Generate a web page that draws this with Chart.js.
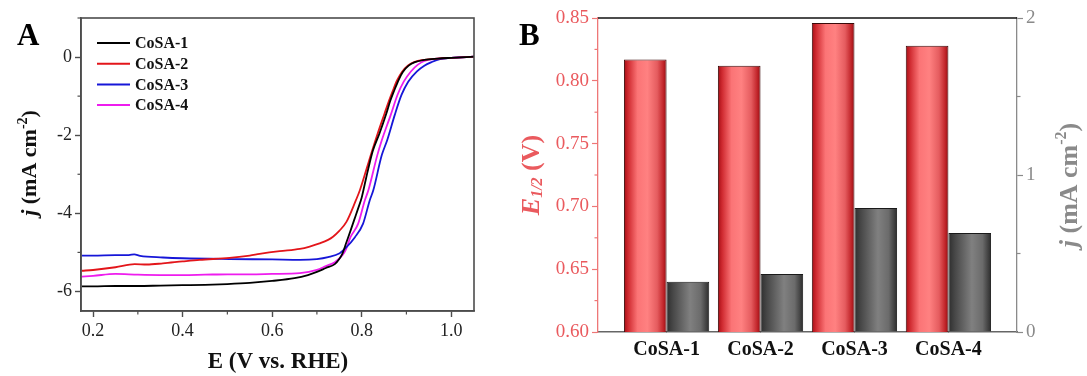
<!DOCTYPE html>
<html>
<head>
<meta charset="utf-8">
<script src="https://cdn.jsdelivr.net/npm/chart.js@4.4.1/dist/chart.umd.min.js"></script>
<style>
  body { margin: 0; background: #fff; width: 1087px; height: 376px; position: relative; overflow: hidden; }
  #wrapA { position: absolute; left: 0; top: 0; width: 500px; height: 376px; }
  #wrapB { position: absolute; left: 500px; top: 0; width: 587px; height: 376px; }
</style>
</head>
<body>
<div id="wrapA"><canvas id="chartA" width="500" height="376"></canvas></div>
<div id="wrapB"><canvas id="chartB" width="587" height="376"></canvas></div>
<script>
const SERIF = "'Liberation Serif', 'Times New Roman', serif";

// ---- panel A: LSV curves ----
const SERIES_NAMES = ["CoSA-1", "CoSA-2", "CoSA-3", "CoSA-4"];
const SERIES_COLORS = ["#000000", "#e3151a", "#1616d8", "#ee1cee"];

const cosa1E = [0.175, 0.2, 0.25, 0.3, 0.35, 0.4, 0.45, 0.5, 0.55, 0.6, 0.65, 0.68, 0.70, 0.72, 0.74, 0.75, 0.757, 0.766, 0.775, 0.783, 0.792, 0.800, 0.807, 0.815, 0.825, 0.840, 0.855, 0.864, 0.873, 0.882, 0.892, 0.905, 0.919, 0.94, 0.97, 1.0, 1.051];
const cosa1J = [-5.87, -5.87, -5.86, -5.86, -5.85, -5.84, -5.83, -5.81, -5.78, -5.73, -5.66, -5.58, -5.50, -5.40, -5.30, -5.17, -5.03, -4.74, -4.45, -4.18, -3.88, -3.60, -3.25, -2.85, -2.40, -1.95, -1.45, -1.12, -0.85, -0.60, -0.38, -0.22, -0.13, -0.07, -0.04, -0.02, 0.01];

const cosa2E = [0.175, 0.2, 0.25, 0.293, 0.32, 0.356, 0.4, 0.438, 0.505, 0.55, 0.572, 0.617, 0.662, 0.684, 0.706, 0.725, 0.736, 0.75, 0.766, 0.787, 0.796, 0.81, 0.822, 0.836, 0.851, 0.861, 0.870, 0.879, 0.89, 0.903, 0.917, 0.94, 0.97, 1.0, 1.051];
const cosa2J = [-5.47, -5.45, -5.38, -5.30, -5.31, -5.28, -5.23, -5.19, -5.14, -5.08, -5.04, -4.97, -4.91, -4.85, -4.77, -4.68, -4.60, -4.45, -4.22, -3.67, -3.41, -2.90, -2.45, -1.95, -1.45, -1.12, -0.85, -0.60, -0.38, -0.22, -0.13, -0.07, -0.04, -0.02, 0.01];

const cosa3E = [0.175, 0.2, 0.25, 0.28, 0.292, 0.305, 0.356, 0.4, 0.505, 0.6, 0.662, 0.70, 0.725, 0.751, 0.765, 0.785, 0.803, 0.818, 0.826, 0.845, 0.857, 0.874, 0.889, 0.904, 0.923, 0.94, 0.956, 0.975, 1.0, 1.051];
const cosa3J = [-5.08, -5.08, -5.07, -5.07, -5.05, -5.09, -5.13, -5.15, -5.17, -5.18, -5.19, -5.17, -5.12, -5.02, -4.88, -4.61, -4.27, -3.67, -3.41, -2.51, -2.13, -1.48, -0.97, -0.63, -0.37, -0.22, -0.13, -0.05, -0.02, 0.01];

const cosa4E = [0.175, 0.2, 0.25, 0.3, 0.35, 0.4, 0.45, 0.5, 0.55, 0.6, 0.662, 0.70, 0.72, 0.74, 0.757, 0.765, 0.775, 0.792, 0.807, 0.815, 0.835, 0.845, 0.865, 0.88, 0.894, 0.91, 0.925, 0.94, 0.97, 1.0, 1.051];
const cosa4J = [-5.62, -5.60, -5.55, -5.57, -5.58, -5.58, -5.57, -5.56, -5.56, -5.55, -5.53, -5.45, -5.35, -5.25, -5.07, -4.92, -4.61, -4.27, -3.67, -3.41, -2.51, -2.13, -1.48, -0.97, -0.63, -0.37, -0.20, -0.10, -0.04, -0.02, 0.01];

const A_X_TICKS = [0.2, 0.4, 0.6, 0.8, 1.0];
const A_Y_TICKS = [0, -2, -4, -6];

// ---- panel B: bars ----
const SAMPLES = ["CoSA-1", "CoSA-2", "CoSA-3", "CoSA-4"];
const HALF_WAVE = [0.817, 0.812, 0.846, 0.828];
const CURRENT_J = [0.32, 0.37, 0.79, 0.63];
const B_LEFT_TICKS = [0.60, 0.65, 0.70, 0.75, 0.80, 0.85];
const B_RIGHT_TICKS = [0, 1, 2];

const RED = "#ea5a5e";
const GREY = "#8a8a8a";
const CAT_PCT = 0.908;

const curves = [[cosa1E, cosa1J], [cosa2E, cosa2J], [cosa3E, cosa3J], [cosa4E, cosa4J]];

// minor ticks (short, outward) for each chart
const MINOR = {
  chartA: { x: 0.1, y: 1 },
  chartB: { yL: 0.025, yR: 0.5 }
};

const minorTicks = {
  id: "minorTicks",
  afterDraw(chart) {
    const conf = MINOR[chart.canvas.id] || {};
    const ctx = chart.ctx;
    Object.keys(conf).forEach((id) => {
      const s = chart.scales[id];
      const step = conf[id];
      const majors = s.ticks.map((t) => t.value);
      const gridColor = s.options.grid.color;
      ctx.save();
      ctx.strokeStyle = typeof gridColor === "string" ? gridColor : "#444";
      ctx.lineWidth = 1.2;
      for (let v = Math.ceil(s.min / step) * step; v <= s.max + 1e-9; v += step) {
        if (majors.some((m) => Math.abs(m - v) < step / 10)) continue;
        const p = s.getPixelForValue(v);
        ctx.beginPath();
        if (s.isHorizontal()) {
          ctx.moveTo(p, s.top); ctx.lineTo(p, s.top + 3.5);
        } else if (s.position === "left") {
          ctx.moveTo(s.right, p); ctx.lineTo(s.right - 3.5, p);
        } else {
          ctx.moveTo(s.left, p); ctx.lineTo(s.left + 3.5, p);
        }
        ctx.stroke();
      }
      ctx.restore();
    });
  }
};

function drawRich(ctx, parts, x, y, angle, color) {
  ctx.save();
  ctx.translate(x, y);
  ctx.rotate(angle);
  ctx.fillStyle = color;
  ctx.textBaseline = "middle";
  ctx.textAlign = "left";
  let total = 0;
  parts.forEach((p) => {
    ctx.font = p.font;
    p.w = ctx.measureText(p.text).width;
    total += p.w;
  });
  let cx = -total / 2;
  parts.forEach((p) => {
    ctx.font = p.font;
    ctx.fillText(p.text, cx, p.dy || 0);
    cx += p.w;
  });
  ctx.restore();
}

const frameA = {
  id: "frameA",
  afterDraw(chart) {
    const { ctx, chartArea: a } = chart;
    ctx.save();
    ctx.strokeStyle = "#4d4d4d";
    ctx.lineWidth = 1.6;
    ctx.strokeRect(a.left, a.top, a.right - a.left, a.bottom - a.top);

    // legend
    chart.data.datasets.forEach((ds, i) => {
      const y = a.top + 25 + i * 20.7;
      ctx.strokeStyle = ds.borderColor;
      ctx.lineWidth = 2;
      ctx.beginPath();
      ctx.moveTo(a.left + 16, y);
      ctx.lineTo(a.left + 49, y);
      ctx.stroke();
      ctx.fillStyle = "#111";
      ctx.font = "bold 16px " + SERIF;
      ctx.textBaseline = "middle";
      ctx.fillText(ds.label, a.left + 54, y + 1);
    });
    ctx.restore();

    ctx.save();
    ctx.fillStyle = "#000";
    ctx.font = "bold 31px " + SERIF;
    ctx.textBaseline = "alphabetic";
    ctx.fillText("A", 17, 45);
    ctx.restore();

    drawRich(ctx, [{ text: "E (V vs. RHE)", font: "bold 23px " + SERIF }], 278, 362, 0, "#111");
    drawRich(ctx, [
      { text: "j", font: "italic bold 22px " + SERIF },
      { text: " (mA cm", font: "bold 22px " + SERIF },
      { text: "-2", font: "bold 14px " + SERIF, dy: -7 },
      { text: ")", font: "bold 22px " + SERIF }
    ], 30, 163, -Math.PI / 2, "#111");
  }
};

new Chart(document.getElementById("chartA"), {
  type: "line",
  data: {
    datasets: curves.map(([es, js], i) => ({
      label: SERIES_NAMES[i],
      data: es.map((e, k) => ({ x: e, y: js[k] })),
      borderColor: SERIES_COLORS[i],
      borderWidth: 1.8,
      pointRadius: 0,
      cubicInterpolationMode: "monotone",
      fill: false
    }))
  },
  options: {
    responsive: false,
    animation: false,
    events: [],
    layout: { padding: { top: 18, right: 26, left: 0, bottom: 0 } },
    plugins: { legend: { display: false }, tooltip: { enabled: false } },
    scales: {
      x: {
        type: "linear",
        min: 0.173,
        max: 1.051,
        afterBuildTicks: (s) => { s.ticks = A_X_TICKS.map((v) => ({ value: v })); },
        afterFit: (s) => { s.height = 65; },
        ticks: {
          autoSkip: false, maxRotation: 0, padding: 3, color: "#222",
          font: { family: SERIF, size: 18 },
          callback: (v) => v.toFixed(1)
        },
        grid: { drawOnChartArea: false, color: "#4d4d4d", tickLength: 6, tickWidth: 1.4 },
        border: { color: "#4d4d4d", width: 1.6 }
      },
      y: {
        type: "linear",
        min: -6.5,
        max: 1.0,
        afterBuildTicks: (s) => { s.ticks = A_Y_TICKS.map((v) => ({ value: v })); },
        afterFit: (s) => { s.width = 81; },
        ticks: {
          padding: 3, color: "#222",
          font: { family: SERIF, size: 18 },
          callback: (v) => String(v)
        },
        grid: { drawOnChartArea: false, color: "#4d4d4d", tickLength: 6, tickWidth: 1.4 },
        border: { color: "#4d4d4d", width: 1.6 }
      }
    }
  },
  plugins: [frameA, minorTicks]
});

// ---- panel B ----
const RED_STOPS = [[0, "#a50d14"], [0.1, "#cf2a30"], [0.32, "#fb7476"], [0.55, "#ff8181"], [0.78, "#e55c5f"], [0.92, "#c2262b"], [1, "#960b10"]];
const GREY_STOPS = [[0, "#2e2e2e"], [0.15, "#474747"], [0.55, "#808080"], [0.8, "#6b6b6b"], [1, "#2c2c2c"]];

function barFill(stops, side) {
  return (c) => {
    const chart = c.chart;
    const xs = chart.scales.x;
    if (!xs || c.dataIndex === undefined) return stops[3][1];
    const step = xs.getPixelForValue(2) - xs.getPixelForValue(1);
    const w = step * CAT_PCT / 2;
    const center = xs.getPixelForValue(c.dataIndex + 1) + side * w / 2;
    if (!isFinite(center) || !isFinite(w) || w <= 0) return stops[3][1];
    const g = chart.ctx.createLinearGradient(center - w / 2, 0, center + w / 2, 0);
    stops.forEach(([o, col]) => g.addColorStop(o, col));
    return g;
  };
}

const frameB = {
  id: "frameB",
  afterDraw(chart) {
    const { ctx, chartArea: a } = chart;
    ctx.save();
    ctx.strokeStyle = "#111";
    ctx.lineWidth = 1.3;
    ctx.beginPath();
    ctx.moveTo(a.left, a.top);
    ctx.lineTo(a.right, a.top);
    ctx.stroke();
    ctx.fillStyle = "#000";
    ctx.font = "bold 31px " + SERIF;
    ctx.fillText("B", 19, 45);
    ctx.restore();

    drawRich(ctx, [
      { text: "E", font: "italic bold 26px " + SERIF },
      { text: "1/2", font: "italic bold 16px " + SERIF, dy: 6 },
      { text: " (V)", font: "bold 26px " + SERIF }
    ], 32, 175, -Math.PI / 2, RED);
    drawRich(ctx, [
      { text: "j", font: "italic bold 26px " + SERIF },
      { text: " (mA cm", font: "bold 26px " + SERIF },
      { text: "-2", font: "bold 16px " + SERIF, dy: -8 },
      { text: ")", font: "bold 26px " + SERIF }
    ], 570, 185, -Math.PI / 2, GREY);
  }
};

new Chart(document.getElementById("chartB"), {
  type: "bar",
  data: {
    datasets: [
      {
        label: "E1/2",
        data: SAMPLES.map((s, i) => ({ x: i + 1, y: HALF_WAVE[i] })),
        yAxisID: "yL",
        backgroundColor: barFill(RED_STOPS, -1),
        borderColor: "#3a0a0a",
        borderWidth: 1,
        categoryPercentage: CAT_PCT,
        barPercentage: 1
      },
      {
        label: "j",
        data: SAMPLES.map((s, i) => ({ x: i + 1, y: CURRENT_J[i] })),
        yAxisID: "yR",
        backgroundColor: barFill(GREY_STOPS, 1),
        borderColor: "#1a1a1a",
        borderWidth: 1,
        categoryPercentage: CAT_PCT,
        barPercentage: 1
      }
    ]
  },
  options: {
    responsive: false,
    animation: false,
    events: [],
    layout: { padding: { top: 18, right: 0, left: 0, bottom: 0 } },
    plugins: { legend: { display: false }, tooltip: { enabled: false } },
    scales: {
      x: {
        type: "linear",
        offset: false,
        min: 0.27,
        max: 4.73,
        afterBuildTicks: (s) => { s.ticks = SAMPLES.map((n, i) => ({ value: i + 1 })); },
        afterFit: (s) => { s.height = 44; },
        ticks: {
          autoSkip: false, maxRotation: 0, padding: 6, color: "#111",
          font: { family: SERIF, size: 20, weight: "bold" },
          callback: (v) => SAMPLES[Math.round(v) - 1]
        },
        grid: { drawOnChartArea: false, offset: false, tickLength: 0, display: true, color: "#666" },
        border: { color: "#666", width: 1.5 }
      },
      yL: {
        type: "linear",
        position: "left",
        min: 0.60,
        max: 0.85,
        afterBuildTicks: (s) => { s.ticks = B_LEFT_TICKS.map((v) => ({ value: v })); },
        afterFit: (s) => { s.width = 98; },
        ticks: {
          padding: 3, color: RED,
          font: { family: SERIF, size: 19 },
          callback: (v) => v.toFixed(2)
        },
        grid: { drawOnChartArea: false, color: "#ee7777", tickLength: 6, tickWidth: 1.2 },
        border: { color: "#ee7777", width: 1.3 }
      },
      yR: {
        type: "linear",
        position: "right",
        min: 0,
        max: 2,
        afterBuildTicks: (s) => { s.ticks = B_RIGHT_TICKS.map((v) => ({ value: v })); },
        afterFit: (s) => { s.width = 70; },
        ticks: {
          padding: 3, color: GREY,
          font: { family: SERIF, size: 19 },
          callback: (v) => String(v)
        },
        grid: { drawOnChartArea: false, color: GREY, tickLength: 6, tickWidth: 1.2 },
        border: { color: GREY, width: 1.3 }
      }
    }
  },
  plugins: [frameB, minorTicks]
});
</script>
</body>
</html>
